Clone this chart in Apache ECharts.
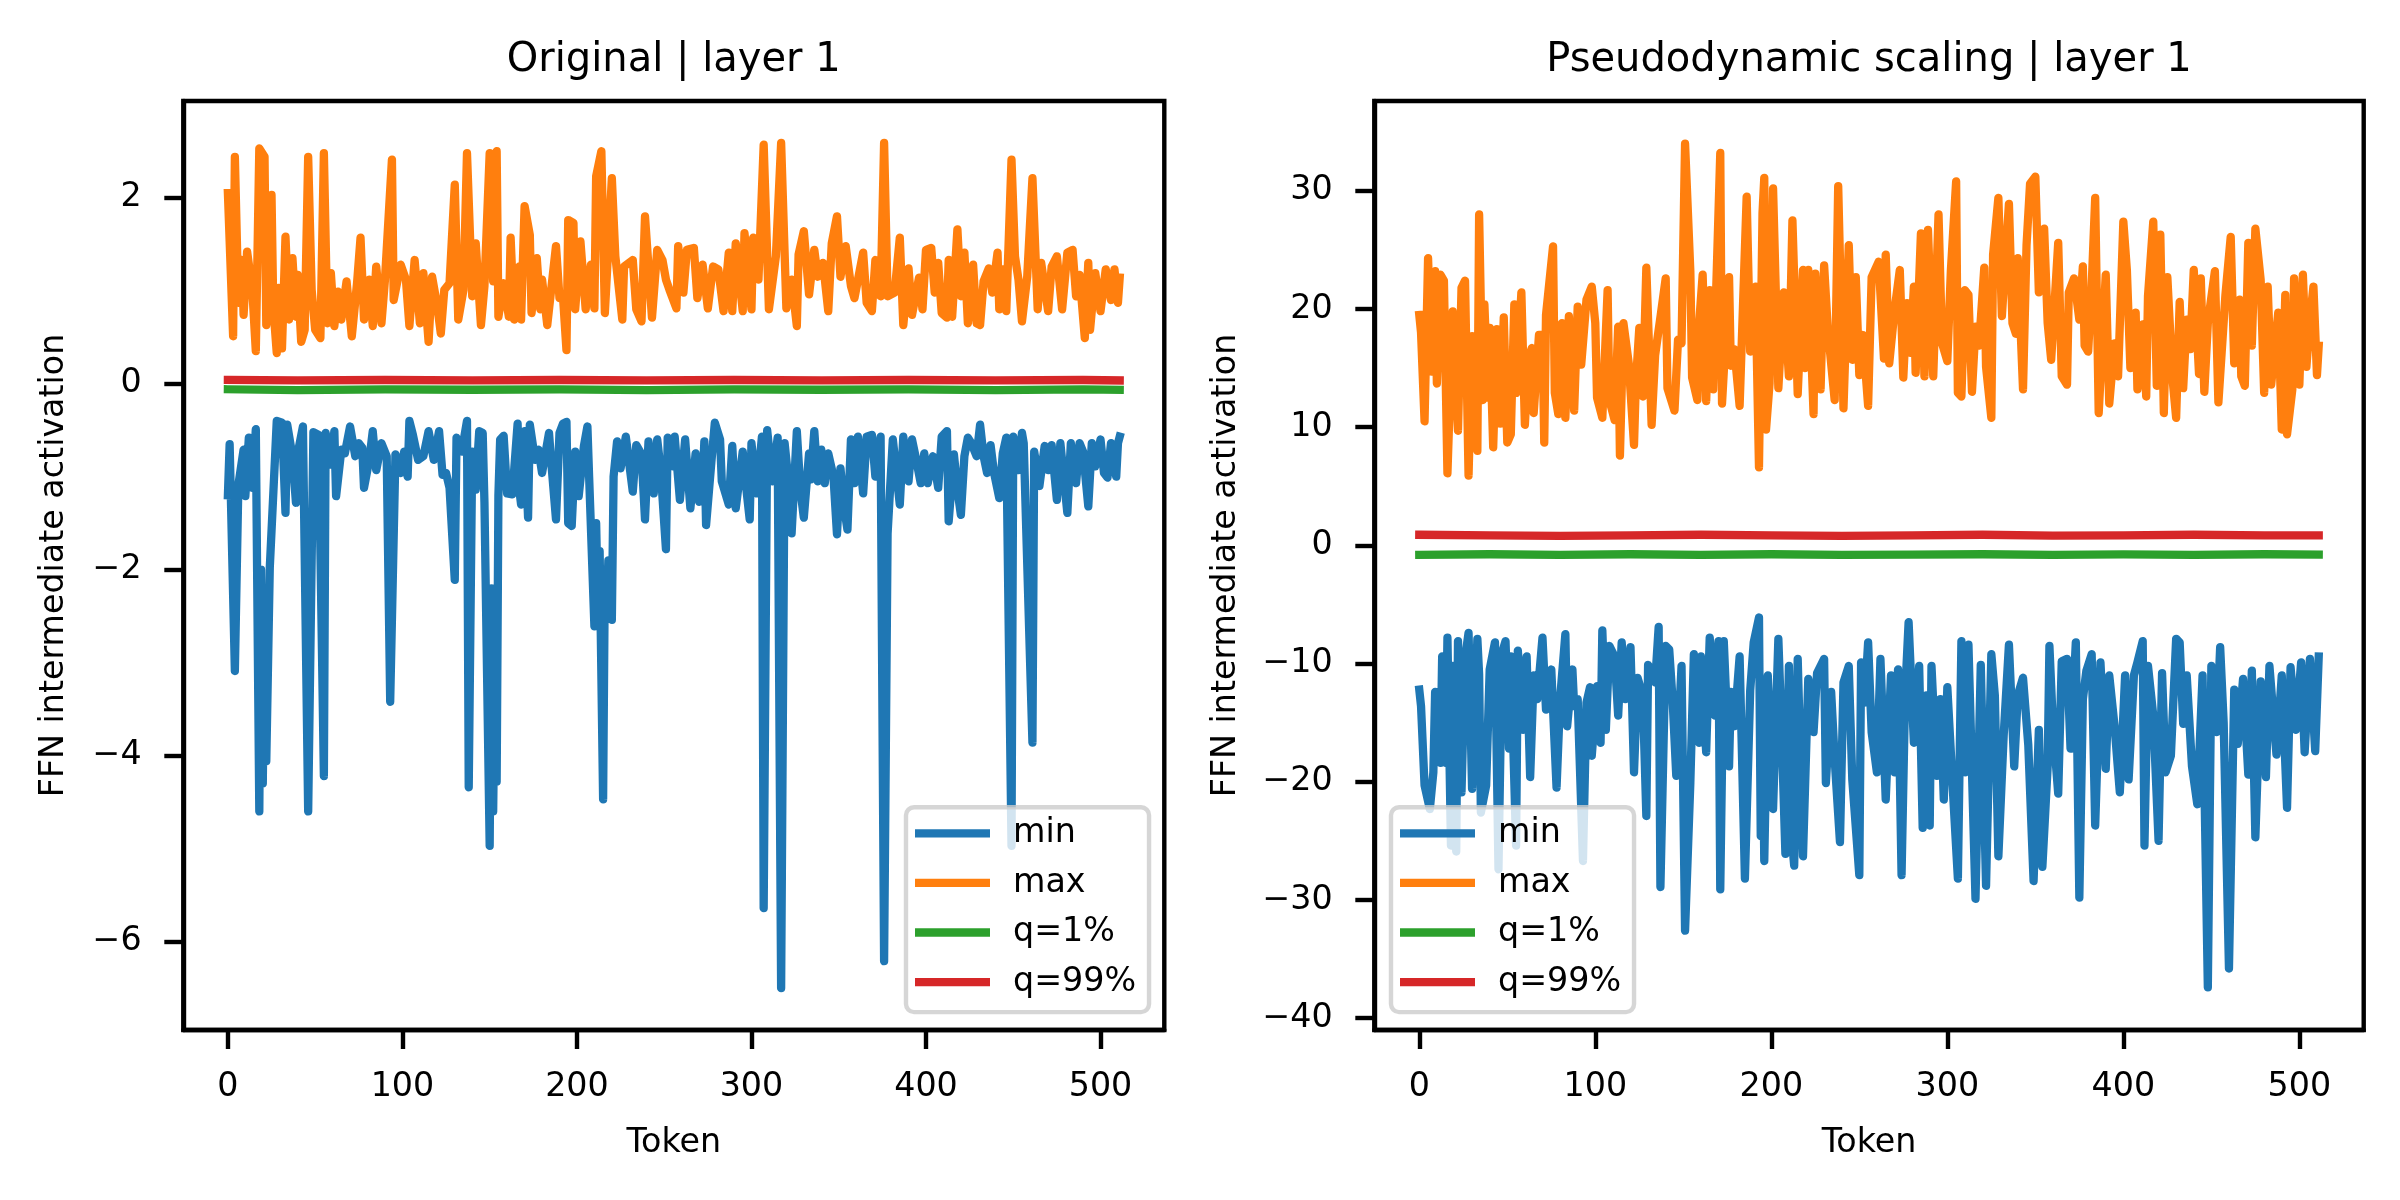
<!DOCTYPE html>
<html>
<head>
<meta charset="utf-8">
<script src="https://cdn.jsdelivr.net/npm/echarts@6/dist/echarts.min.js"></script>
<style>
html,body{margin:0;padding:0;background:#fff;}
#chart{width:2400px;height:1200px;}
</style>
</head>
<body>
<div id="chart"></div>
<script>
// ---------- data: [token, value] pairs ----------
const seriesNames = ['min', 'max', 'q=1%', 'q=99%'];
const xTicks = [0, 100, 200, 300, 400, 500];
const origYTicks = [-6, -4, -2, 0, 2];
const pseudoYTicks = [-40, -30, -20, -10, 0, 10, 20, 30];

const origMin = [[0,-1.20],[1,-0.65],[4,-3.09],[6,-1.09],[9,-0.71],[10,-1.21],[12,-0.58],[14,-1.12],[16,-0.49],[18,-4.60],[19,-2.0],[20,-4.3],[21,-2.5],[22,-4.06],[24,-1.98],[28,-0.40],[31,-0.42],[33,-1.39],[34,-0.44],[37,-0.78],[39,-1.28],[40,-0.75],[43,-0.46],[46,-4.60],[49,-0.52],[52,-0.55],[55,-4.22],[56,-0.53],[59,-0.87],[61,-0.51],[62,-1.21],[65,-0.71],[67,-0.75],[70,-0.46],[73,-0.78],[75,-0.64],[77,-0.69],[78,-1.12],[81,-0.82],[83,-0.51],[85,-0.93],[88,-0.64],[91,-0.78],[93,-3.42],[96,-0.76],[99,-0.96],[101,-0.73],[103,-1.00],[104,-0.40],[106,-0.55],[109,-0.82],[112,-0.78],[115,-0.51],[118,-0.82],[121,-0.51],[123,-0.98],[125,-0.96],[127,-1.12],[130,-2.11],[131,-0.58],[134,-0.73],[137,-0.40],[138,-4.34],[140,-0.73],[142,-1.14],[144,-0.51],[146,-0.53],[147,-1.27],[150,-4.97],[151,-2.2],[152,-4.6],[153,-3.0],[154,-4.28],[155,-1.2],[156,-0.6],[158,-0.56],[160,-1.18],[163,-1.19],[166,-0.43],[167,-1.14],[168,-1.30],[170,-0.51],[172,-1.44],[173,-0.44],[176,-0.82],[178,-0.71],[180,-0.96],[184,-0.53],[185,-0.78],[188,-1.46],[190,-0.53],[192,-0.43],[194,-0.41],[195,-1.50],[197,-1.53],[199,-0.73],[201,-1.21],[204,-0.67],[206,-0.46],[207,-1.01],[210,-2.61],[211,-1.5],[212,-2.4],[213,-1.8],[215,-4.47],[216,-2.0],[217,-2.5],[218,-1.9],[220,-2.54],[221,-1.0],[223,-0.62],[225,-0.91],[228,-0.57],[232,-1.16],[234,-0.66],[237,-0.76],[239,-1.46],[241,-0.62],[244,-1.18],[246,-0.60],[248,-0.93],[251,-1.78],[252,-0.58],[255,-0.89],[256,-0.57],[259,-1.25],[262,-0.60],[265,-1.34],[268,-0.75],[270,-1.27],[272,-1.07],[273,-0.62],[274,-1.52],[277,-0.85],[279,-0.42],[282,-0.60],[283,-1.05],[287,-1.30],[289,-0.67],[291,-1.34],[295,-0.73],[297,-1.12],[299,-1.46],[300,-0.64],[303,-1.18],[306,-0.57],[307,-5.64],[309,-0.50],[312,-1.05],[315,-0.58],[317,-6.50],[319,-0.64],[321,-1.01],[323,-1.61],[326,-0.51],[328,-1.14],[330,-1.44],[333,-0.75],[334,-1.03],[336,-0.51],[338,-1.05],[340,-0.71],[342,-1.07],[344,-0.75],[347,-1.00],[349,-1.62],[351,-0.91],[353,-1.32],[355,-1.57],[357,-0.60],[359,-1.07],[361,-0.57],[364,-1.18],[366,-0.57],[369,-0.55],[371,-1.00],[374,-0.57],[376,-6.21],[378,-1.61],[381,-0.60],[385,-1.30],[387,-0.57],[390,-1.05],[392,-0.60],[394,-0.78],[397,-1.07],[399,-0.75],[401,-1.07],[404,-0.78],[407,-1.12],[409,-0.57],[412,-0.51],[413,-1.48],[416,-0.76],[418,-1.14],[420,-1.41],[422,-0.78],[424,-0.58],[426,-0.64],[429,-0.78],[431,-0.44],[433,-0.78],[435,-0.96],[437,-0.66],[439,-0.96],[441,-1.14],[442,-1.23],[444,-0.75],[446,-0.58],[449,-4.97],[450,-0.57],[453,-0.93],[455,-0.53],[456,-0.64],[461,-3.86],[462,-0.73],[465,-1.10],[468,-0.67],[470,-0.93],[472,-0.66],[475,-1.25],[477,-0.64],[481,-1.39],[483,-0.64],[486,-1.07],[488,-0.64],[490,-0.73],[493,-1.32],[495,-0.64],[497,-0.89],[500,-0.60],[502,-0.96],[504,-1.01],[506,-0.64],[509,-1.00],[510,-0.64],[511,-0.57]];

const origMax = [[0,2.05],[3,0.51],[4,2.44],[6,0.87],[8,1.33],[9,0.74],[11,1.42],[14,1.01],[16,0.35],[18,2.53],[21,2.44],[22,0.63],[25,2.03],[26,0.83],[28,0.33],[29,1.03],[31,0.38],[33,1.58],[35,0.69],[37,1.35],[39,0.72],[40,1.17],[42,0.45],[44,0.58],[46,2.44],[48,1.01],[50,0.58],[53,0.49],[55,2.48],[57,0.65],[59,1.19],[61,0.62],[63,0.99],[65,0.69],[68,1.10],[71,0.51],[74,1.08],[76,1.57],[78,0.69],[81,1.12],[83,0.62],[85,1.26],[88,0.65],[90,1.12],[94,2.41],[95,0.90],[99,1.28],[102,1.12],[104,0.62],[107,1.33],[110,0.65],[112,1.19],[115,0.45],[117,1.15],[120,0.83],[122,0.54],[124,1.01],[127,1.08],[130,2.14],[132,0.69],[135,1.01],[137,2.48],[140,0.94],[142,1.51],[145,0.63],[147,1.05],[150,2.48],[152,1.10],[154,2.50],[155,0.72],[158,1.08],[161,0.72],[162,1.57],[164,0.69],[167,1.26],[168,0.69],[170,1.91],[173,1.60],[174,0.76],[177,1.35],[179,0.80],[180,1.12],[183,0.63],[188,1.48],[190,0.92],[192,0.94],[194,0.36],[195,1.76],[198,1.73],[199,0.80],[202,1.53],[205,0.80],[208,1.28],[210,0.81],[211,2.23],[214,2.50],[216,0.76],[220,2.21],[222,1.37],[226,0.69],[227,1.26],[232,1.33],[234,0.80],[237,0.67],[239,1.80],[243,0.71],[246,1.44],[249,1.33],[251,1.12],[253,1.01],[257,0.81],[258,1.48],[261,0.98],[263,1.44],[267,1.46],[269,0.92],[272,1.28],[275,0.81],[278,1.26],[281,1.23],[284,0.78],[287,1.41],[289,0.78],[291,1.51],[295,0.78],[296,1.62],[300,0.80],[301,1.57],[304,1.12],[307,2.57],[310,0.80],[314,1.37],[317,2.59],[320,0.81],[323,1.12],[326,0.62],[327,1.39],[330,1.64],[333,0.96],[336,1.44],[338,1.15],[341,1.30],[344,0.78],[346,1.51],[349,1.80],[351,1.15],[354,1.48],[357,1.05],[359,0.92],[364,1.41],[366,0.87],[369,0.78],[371,1.33],[374,0.94],[376,2.59],[378,0.94],[382,0.98],[385,1.57],[387,0.63],[390,1.24],[392,0.74],[396,1.14],[398,0.80],[400,1.44],[403,1.46],[405,0.98],[407,1.30],[409,0.76],[412,0.71],[413,1.33],[415,0.72],[418,1.66],[420,0.94],[422,1.41],[424,0.65],[427,1.28],[429,0.65],[431,0.63],[433,1.10],[436,1.24],[438,0.98],[441,1.41],[442,0.80],[444,1.23],[446,0.78],[449,2.41],[451,1.37],[453,1.12],[455,0.67],[458,1.15],[461,2.21],[464,0.80],[466,1.30],[470,0.78],[472,1.26],[475,1.37],[478,0.80],[481,1.41],[484,1.44],[486,0.94],[488,1.17],[491,0.49],[493,1.30],[494,0.58],[497,1.19],[500,0.78],[503,1.23],[506,0.90],[508,1.23],[510,0.87],[511,1.14]];

const origQ1 = [[0,-0.06],[40,-0.07],[90,-0.06],[140,-0.065],[190,-0.06],[240,-0.07],[290,-0.06],[340,-0.065],[390,-0.06],[440,-0.07],[490,-0.06],[511,-0.065]];
const origQ99 = [[0,0.04],[40,0.035],[90,0.04],[140,0.035],[190,0.04],[240,0.035],[290,0.04],[340,0.035],[390,0.04],[440,0.035],[490,0.04],[511,0.035]];

const pseudoMin = [[0,-12.2],[1,-13.6],[3,-20.3],[6,-22.3],[8,-19.2],[9,-12.4],[12,-18.4],[13,-9.4],[15,-18.4],[16,-7.8],[18,-25.4],[19,-10.2],[21,-25.9],[22,-8.1],[24,-20.9],[26,-9.6],[28,-7.4],[30,-20.6],[32,-12.4],[33,-7.9],[34,-10.9],[35,-22.6],[38,-20.3],[40,-10.5],[43,-8.2],[45,-27.4],[47,-9.1],[49,-8.1],[51,-17.2],[52,-9.4],[55,-25.4],[56,-8.9],[59,-15.6],[61,-9.4],[63,-19.6],[65,-11.0],[67,-13.0],[70,-7.8],[72,-13.9],[75,-10.5],[78,-20.5],[80,-13.0],[83,-7.5],[84,-15.3],[87,-10.5],[88,-13.6],[90,-13.0],[93,-26.7],[95,-13.3],[97,-12.0],[98,-17.8],[101,-11.9],[103,-16.7],[104,-7.2],[106,-15.6],[108,-8.5],[111,-9.4],[113,-14.4],[115,-8.2],[117,-13.0],[120,-8.6],[122,-19.2],[124,-11.2],[127,-12.7],[129,-22.9],[130,-10.1],[134,-11.6],[136,-6.9],[137,-28.9],[140,-8.5],[142,-8.8],[144,-13.3],[146,-19.5],[149,-10.2],[151,-32.6],[154,-20.1],[156,-9.2],[159,-16.7],[160,-9.4],[163,-17.5],[165,-7.8],[168,-14.4],[170,-8.1],[171,-29.1],[173,-8.1],[176,-18.7],[177,-12.4],[179,-15.3],[182,-9.4],[185,-28.2],[188,-12.3],[190,-8.2],[193,-6.1],[194,-24.6],[195,-11.9],[196,-26.7],[198,-11.0],[201,-22.3],[204,-7.9],[206,-16.4],[208,-26.1],[210,-10.2],[212,-25.4],[213,-27.1],[215,-9.6],[218,-26.3],[221,-11.3],[224,-15.8],[226,-10.8],[230,-9.6],[231,-20.1],[234,-12.4],[236,-18.1],[239,-25.1],[241,-11.6],[244,-10.2],[246,-19.8],[250,-27.9],[251,-9.9],[253,-13.3],[255,-8.2],[257,-15.8],[260,-19.2],[262,-9.6],[265,-21.5],[268,-11.0],[270,-19.2],[272,-10.5],[274,-27.9],[276,-12.7],[278,-6.5],[281,-16.7],[284,-10.2],[286,-23.9],[288,-12.7],[290,-23.7],[291,-10.2],[294,-19.5],[296,-13.0],[298,-21.5],[300,-12.0],[303,-20.3],[306,-28.2],[308,-8.1],[310,-19.2],[312,-8.4],[316,-29.9],[319,-10.1],[322,-28.8],[325,-9.2],[327,-12.7],[329,-26.3],[332,-16.1],[335,-8.4],[338,-18.7],[340,-12.7],[343,-11.2],[346,-16.9],[349,-28.4],[352,-15.6],[354,-27.2],[357,-18.7],[358,-8.5],[360,-15.3],[363,-21.0],[365,-9.8],[368,-9.6],[370,-17.2],[373,-8.2],[375,-29.8],[377,-13.0],[379,-10.6],[382,-9.2],[384,-23.7],[387,-9.9],[390,-18.9],[392,-11.0],[395,-15.3],[398,-20.9],[401,-11.0],[403,-19.8],[406,-11.0],[408,-9.9],[411,-8.1],[412,-25.4],[414,-10.2],[417,-14.4],[420,-25.0],[422,-10.8],[424,-19.2],[427,-17.8],[430,-7.9],[432,-8.2],[434,-15.1],[436,-11.0],[439,-18.7],[442,-21.9],[445,-11.0],[448,-37.4],[450,-10.2],[453,-15.8],[455,-8.6],[457,-15.0],[460,-35.8],[463,-12.2],[465,-16.8],[468,-11.3],[471,-19.4],[473,-10.6],[475,-24.7],[478,-11.5],[481,-19.6],[483,-10.2],[487,-17.7],[490,-11.0],[493,-22.2],[495,-10.3],[498,-15.6],[501,-9.9],[503,-17.5],[506,-9.6],[509,-17.4],[511,-9.4]];

const pseudoMax = [[0,19.5],[1,18.0],[3,10.5],[5,24.3],[7,14.7],[9,23.2],[10,13.7],[12,22.9],[14,22.4],[16,6.1],[19,19.8],[22,9.7],[24,21.8],[26,22.4],[28,5.9],[30,17.7],[33,8.0],[34,28.0],[36,12.3],[37,20.4],[39,12.5],[40,18.4],[42,8.3],[44,18.3],[46,10.3],[48,19.3],[50,8.7],[52,9.4],[54,20.4],[55,12.9],[58,21.4],[60,10.2],[62,15.9],[64,16.7],[65,11.2],[68,17.8],[70,17.8],[71,8.7],[72,19.5],[76,25.3],[77,12.9],[79,11.1],[81,18.8],[83,10.8],[85,19.4],[88,11.4],[90,20.2],[92,15.3],[95,20.8],[98,21.9],[100,18.8],[101,12.5],[104,10.8],[107,21.6],[108,12.3],[111,10.6],[113,18.5],[114,7.6],[116,18.8],[119,15.4],[122,8.5],[123,13.6],[125,18.4],[127,12.6],[129,23.5],[132,10.2],[134,16.1],[137,19.3],[140,22.6],[141,13.3],[145,11.4],[147,17.4],[149,17.1],[151,34.0],[154,23.2],[155,14.2],[158,12.3],[159,18.8],[161,22.9],[163,12.2],[165,21.6],[167,13.2],[171,33.2],[172,12.0],[176,22.7],[177,15.2],[179,16.6],[182,11.8],[186,29.5],[188,16.4],[191,21.9],[193,6.6],[195,28.1],[196,31.1],[197,9.8],[199,13.7],[201,30.2],[204,13.3],[207,21.4],[210,14.3],[212,27.5],[215,12.8],[218,23.3],[219,15.0],[221,23.3],[224,11.1],[225,23.0],[228,13.2],[230,23.7],[232,18.5],[236,12.3],[238,30.4],[241,11.6],[244,25.4],[246,15.7],[248,22.7],[250,14.4],[252,17.8],[255,11.8],[257,22.7],[261,24.0],[264,15.8],[265,24.6],[267,15.4],[270,19.9],[273,23.3],[275,14.2],[277,20.5],[279,16.3],[281,21.9],[282,14.6],[285,26.4],[287,14.3],[289,26.7],[292,14.3],[295,28.0],[297,17.1],[300,15.6],[302,23.2],[305,30.8],[306,12.9],[308,12.6],[310,21.6],[312,21.2],[314,13.0],[316,18.5],[318,16.9],[321,23.5],[322,15.1],[325,10.8],[326,24.6],[329,29.4],[331,19.4],[335,28.9],[337,18.8],[339,17.9],[340,24.3],[343,13.2],[345,25.4],[347,30.6],[350,31.2],[352,21.4],[355,26.8],[357,18.8],[359,15.7],[363,25.6],[365,14.3],[368,13.6],[369,21.4],[372,22.6],[375,19.1],[377,23.6],[378,16.9],[380,16.4],[382,21.9],[384,29.4],[386,11.2],[390,22.9],[392,12.0],[395,17.1],[397,14.3],[400,27.4],[402,23.3],[404,15.0],[407,19.7],[408,13.2],[411,18.7],[413,12.6],[414,21.1],[417,27.4],[419,13.5],[421,26.3],[423,11.2],[425,22.7],[428,14.0],[430,10.8],[432,20.6],[434,13.3],[436,19.1],[438,16.6],[440,23.3],[443,14.5],[444,22.6],[446,13.0],[448,18.8],[452,23.2],[454,12.1],[458,21.2],[461,26.1],[463,15.4],[466,20.8],[467,14.3],[469,13.5],[471,25.6],[473,16.9],[475,26.8],[478,22.5],[480,12.9],[482,21.9],[484,13.6],[488,19.7],[490,9.8],[492,21.2],[493,9.4],[496,13.2],[497,22.6],[500,13.6],[502,22.9],[504,15.1],[506,19.1],[508,21.9],[510,14.4],[511,16.9]];

const pseudoQ1 = [[0,-0.8],[40,-0.75],[80,-0.8],[120,-0.75],[160,-0.8],[200,-0.75],[240,-0.8],[280,-0.78],[320,-0.75],[360,-0.8],[400,-0.76],[440,-0.8],[480,-0.75],[511,-0.78]];
const pseudoQ99 = [[0,0.9],[40,0.85],[80,0.8],[120,0.85],[160,0.9],[200,0.85],[240,0.8],[280,0.85],[320,0.9],[360,0.82],[400,0.85],[440,0.9],[480,0.85],[511,0.85]];

// ---------- styling ----------
const FONT = 'DejaVu Sans';
const COLORS = ['#1f77b4', '#ff7f0e', '#2ca02c', '#d62728'];
const LW = 8.3, SPINE = 4.4, TICKLEN = 19;
const minus = v => String(v).replace('-', '\u2212');

const grids = [
  {left: 183.3, top: 101, width: 981, height: 929},
  {left: 1374.3, top: 101, width: 989.4, height: 929}
];

function xAxisFor(i) {
  return {
    type: 'value', gridIndex: i, min: -25.55, max: 536.55,
    name: 'Token', nameLocation: 'middle', nameGap: 97,
    nameTextStyle: {fontFamily: FONT, fontSize: 33.3, color: '#000'},
    axisLine: {show: true, onZero: false, lineStyle: {color: '#000', width: SPINE}},
    axisTick: {show: true, customValues: xTicks, length: TICKLEN, lineStyle: {color: '#000', width: SPINE}},
    axisLabel: {show: true, customValues: xTicks, margin: 41, fontFamily: FONT, fontSize: 33.3, color: '#000', formatter: minus},
    splitLine: {show: false}
  };
}
function yAxisFor(i, mn, mx, ticks, gap) {
  return {
    type: 'value', gridIndex: i, min: mn, max: mx,
    name: 'FFN intermediate activation', nameLocation: 'middle', nameGap: gap,
    nameTextStyle: {fontFamily: FONT, fontSize: 33.3, color: '#000'},
    axisLine: {show: true, onZero: false, lineStyle: {color: '#000', width: SPINE}},
    axisTick: {show: true, customValues: ticks, length: TICKLEN, lineStyle: {color: '#000', width: SPINE}},
    axisLabel: {show: true, customValues: ticks, margin: 41.6, fontFamily: FONT, fontSize: 33.3, color: '#000', formatter: minus},
    splitLine: {show: false}
  };
}

function lineSeries(name, data, idx, color) {
  return {
    name: name, type: 'line', data: data, xAxisIndex: idx, yAxisIndex: idx,
    showSymbol: false, symbol: 'none', color: color,
    lineStyle: {color: color, width: LW, cap: 'square', join: 'round'},
    itemStyle: {color: color}, animation: false, silent: true, sampling: null
  };
}

function legendFor(left, top) {
  return {
    data: seriesNames, orient: 'vertical', left: left, top: top,
    icon: 'rect', itemWidth: 75, itemHeight: 8.3, itemGap: 13.6,
    padding: [8, 13, 12, 9], selectedMode: false,
    backgroundColor: 'rgba(255,255,255,0.8)',
    borderColor: 'rgba(204,204,204,0.8)', borderWidth: 4.4, borderRadius: 8,
    textStyle: {fontFamily: FONT, fontSize: 33.3, color: '#000', lineHeight: 36, padding: [0, 0, 0, 18]}
  };
}

const chart = echarts.init(document.getElementById('chart'), null, {renderer: 'canvas'});
chart.setOption({
  backgroundColor: '#ffffff',
  animation: false,
  grid: grids.map(g => Object.assign({show: true, borderColor: '#000', borderWidth: SPINE, backgroundColor: 'transparent', containLabel: false}, g)),
  xAxis: [xAxisFor(0), xAxisFor(1)],
  yAxis: [
    yAxisFor(0, -6.95, 3.04, origYTicks, 112),
    yAxisFor(1, -41.0, 37.6, pseudoYTicks, 131)
  ],
  legend: [legendFor(906, 807.3), legendFor(1391, 807.3)],
  graphic: [
    {type: 'text', x: 673.7, y: 41, style: {text: 'Original | layer 1', font: '40px "DejaVu Sans"', fill: '#000', align: 'center', verticalAlign: 'top'}},
    {type: 'text', x: 1869, y: 41, style: {text: 'Pseudodynamic scaling | layer 1', font: '40px "DejaVu Sans"', fill: '#000', align: 'center', verticalAlign: 'top'}}
  ],
  series: [
    lineSeries('min', origMin, 0, COLORS[0]),
    lineSeries('max', origMax, 0, COLORS[1]),
    lineSeries('q=1%', origQ1, 0, COLORS[2]),
    lineSeries('q=99%', origQ99, 0, COLORS[3]),
    lineSeries('min', pseudoMin, 1, COLORS[0]),
    lineSeries('max', pseudoMax, 1, COLORS[1]),
    lineSeries('q=1%', pseudoQ1, 1, COLORS[2]),
    lineSeries('q=99%', pseudoQ99, 1, COLORS[3])
  ]
});
</script>
</body>
</html>
